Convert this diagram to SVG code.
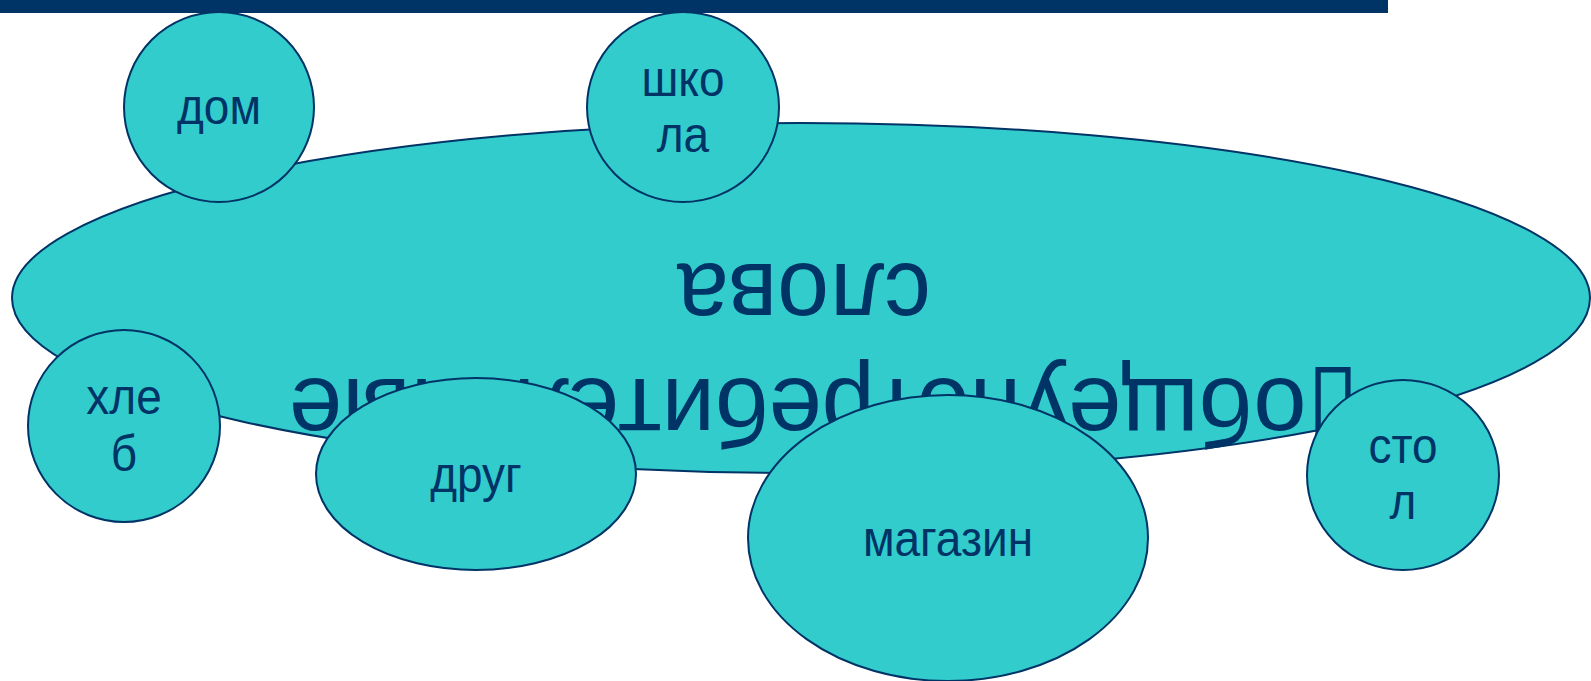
<svg xmlns="http://www.w3.org/2000/svg" width="1591" height="681" viewBox="0 0 1591 681">
<style>
.sh{fill:#33CCCC;stroke:#003366;stroke-width:2}
.lb{font-family:"Liberation Sans",Arial,sans-serif;font-size:50px;fill:#003366;text-anchor:middle}
.big{font-family:"Liberation Sans",Arial,"DejaVu Sans",sans-serif;font-size:97px;fill:#003366;text-anchor:middle}
</style>
<rect x="0" y="0" width="1591" height="681" fill="#FFFFFF"/>
<g id="main">
<ellipse class="sh" cx="801" cy="298" rx="789" ry="175"/>
<text class="big" transform="translate(804,264) rotate(180) scale(0.96,1)">слова</text>
<text class="big" transform="translate(824,379) rotate(180) scale(0.985,1)">▯общеупотребительные</text>
</g>
<g id="bar"><rect x="0" y="0" width="1388" height="13" fill="#003366"/></g>
<g id="connectors"></g>
<g id="dom"><circle class="sh" cx="219" cy="107" r="95"/><text class="lb" transform="translate(219,124) scale(0.92,1)">дом</text></g>
<g id="shkola"><ellipse class="sh" cx="683" cy="107" rx="96" ry="95"/><text class="lb" transform="translate(683,96) scale(0.92,1)">шко</text><text class="lb" transform="translate(683,152) scale(0.92,1)">ла</text></g>
<g id="hleb"><ellipse class="sh" cx="124" cy="426" rx="96" ry="96"/><text class="lb" transform="translate(124,414) scale(0.92,1)">хле</text><text class="lb" transform="translate(124,471) scale(0.92,1)">б</text></g>
<g id="drug"><ellipse class="sh" cx="476" cy="474" rx="160" ry="96"/><text class="lb" transform="translate(476,492) scale(0.92,1)">друг</text></g>
<g id="magazin"><ellipse class="sh" cx="948" cy="538" rx="200" ry="143"/><text class="lb" transform="translate(948,556) scale(0.92,1)">магазин</text></g>
<g id="stol"><ellipse class="sh" cx="1403" cy="475" rx="96" ry="95"/><text class="lb" transform="translate(1403,463) scale(0.92,1)">сто</text><text class="lb" transform="translate(1403,519) scale(0.92,1)">л</text></g>
</svg>
